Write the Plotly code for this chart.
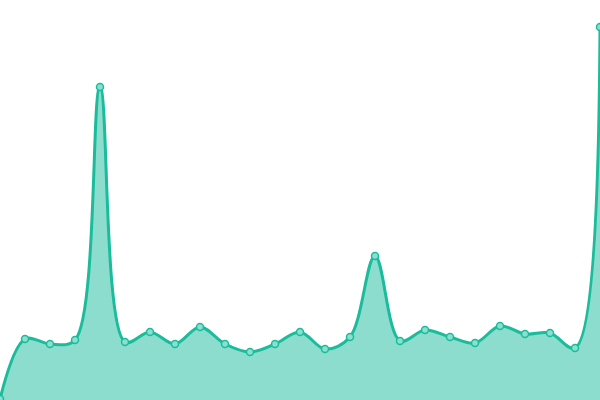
import plotly.graph_objects as go

categories = list(range(25))
values = [1, 61, 56, 60, 313, 58, 68, 56, 73, 56, 48, 56, 68, 51, 63, 144, 59, 70, 63, 57, 74, 66, 67, 52, 373]

fig = go.Figure()
fig.add_trace(go.Scatter(
    x=categories, y=values,
    mode="lines+markers",
    line=dict(shape="spline", smoothing=1, color="#1abc9c", width=3),
    fill="tozeroy",
    fillcolor="rgba(26,188,156,0.5)",
    marker=dict(size=7, color="#8ae0cf", line=dict(color="#1abc9c", width=1.5)),
    hoverinfo="skip",
))
fig.update_layout(
    width=600, height=400,
    margin=dict(l=0, r=0, t=0, b=0),
    paper_bgcolor="white", plot_bgcolor="white",
    showlegend=False,
    xaxis=dict(visible=False, range=[0, 24], fixedrange=True),
    yaxis=dict(visible=False, range=[0, 400], fixedrange=True),
)
fig.write_html(
    "out.html",
    config={"displayModeBar": False},
    post_script="document.body.style.margin='0';document.body.style.overflow='hidden';",
)
